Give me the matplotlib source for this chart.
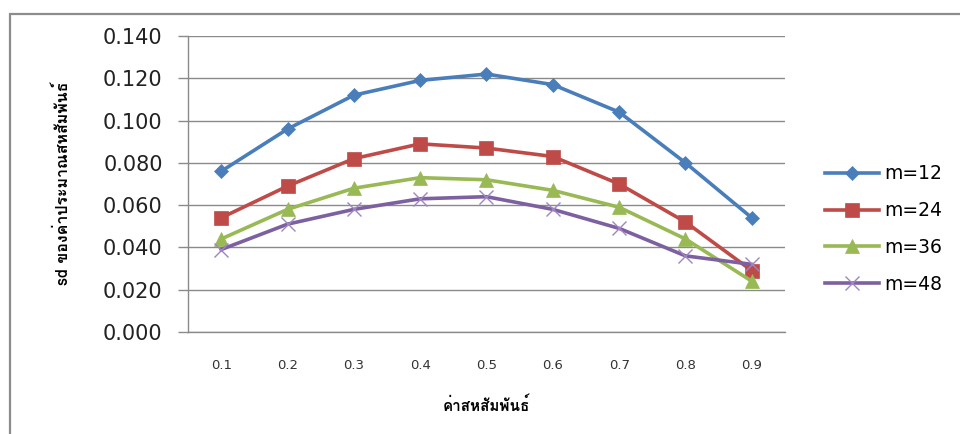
import numpy as np
import matplotlib
matplotlib.use('Agg')
import matplotlib.pyplot as plt
from matplotlib import font_manager
from matplotlib.ft2font import FT2Font
from matplotlib.patches import Rectangle

# correlation values on the category axis
rho_labels = ['0.1', '0.2', '0.3', '0.4', '0.5', '0.6', '0.7', '0.8', '0.9']

# sd of the correlation estimate for each sample size m
sd_m12 = [0.076, 0.096, 0.112, 0.119, 0.122, 0.117, 0.104, 0.080, 0.054]
sd_m24 = [0.054, 0.069, 0.082, 0.089, 0.087, 0.083, 0.070, 0.052, 0.029]
sd_m36 = [0.044, 0.058, 0.068, 0.073, 0.072, 0.067, 0.059, 0.044, 0.024]
sd_m48 = [0.039, 0.051, 0.058, 0.063, 0.064, 0.058, 0.049, 0.036, 0.032]

series_names = ['m=12', 'm=24', 'm=36', 'm=48']


def thai_font():
  # look for any installed font that actually has Thai glyphs
  for f in font_manager.fontManager.ttflist:
    try:
      cmap = FT2Font(f.fname).get_charmap()
    except Exception:
      continue
    if 0x0E04 in cmap and 0x0E2A in cmap:
      return f.name
  return None


thai = thai_font()
label_family = [thai, 'DejaVu Sans'] if thai else ['DejaVu Sans']

fig = plt.figure(figsize=(9.6, 4.34), dpi=100)
fig.patch.set_facecolor('white')

# outer chart frame, runs off the right and bottom edges
fig.patches.append(Rectangle((10/960, -0.05), 1.0, 1 - 14/434 + 0.05,
                             transform=fig.transFigure, fill=False,
                             edgecolor='#8c8c8c', linewidth=1.6))

ax = fig.add_axes([188/960, 1 - 332/434, 597/960, 296/434])

x = np.arange(len(rho_labels))
styles = [
  (sd_m12, '#4a7ebb', 'D', 7, None),
  (sd_m24, '#be4b48', 's', 10, None),
  (sd_m36, '#98b954', '^', 10, None),
  (sd_m48, '#7d60a0', 'x', 10, '#9e86c0'),
]
lines = []
for (vals, col, mk, ms, mec), name in zip(styles, series_names):
  ln, = ax.plot(x, vals, color=col, lw=2.6, marker=mk, ms=ms,
                mec=mec if mec else col, mfc=col, mew=1.0 if mk == 'x' else 0.5,
                label=name, zorder=3)
  lines.append(ln)

ax.set_xlim(-0.5, 8.5)
ax.set_ylim(0, 0.14)
yt = np.arange(0, 0.141, 0.02)
ax.set_yticks(yt)
ax.set_yticklabels(['%.3f' % v for v in yt], fontsize=15, color='#222222')
ax.set_xticks(x)
ax.set_xticklabels(rho_labels, fontsize=9.5, color='#333333')

ax.grid(axis='y', color='#8a8a8a', lw=1.0, zorder=0)
ax.axhline(0, color='#8a8a8a', lw=1.0, clip_on=False, zorder=1)
ax.tick_params(axis='y', length=7.2, width=1.0, color='#8a8a8a', pad=11)
ax.tick_params(axis='x', length=0, pad=19.5)
for s in ['top', 'right', 'bottom']:
  ax.spines[s].set_visible(False)
ax.spines['left'].set_color('#8a8a8a')
ax.spines['left'].set_linewidth(1.0)
ax.patch.set_alpha(0)

fig.text(486/960, 1 - 405/434, 'ค่าสหสัมพันธ์', family=label_family,
         fontsize=11, fontweight='bold', ha='center', va='center')
fig.text(62/960, 1 - 183/434, 'sd ของค่าประมาณสหสัมพันธ์', family=label_family,
         fontsize=11.5, fontweight='bold', rotation=90, ha='center', va='center')

leg = fig.legend(handles=lines, loc='center left',
                 bbox_to_anchor=(825/960, 1 - 229/434), frameon=False,
                 fontsize=13.5, handlelength=2.9, labelspacing=0.95,
                 handletextpad=0.25, borderpad=0, borderaxespad=0)

plt.savefig('out.png', dpi=100)
